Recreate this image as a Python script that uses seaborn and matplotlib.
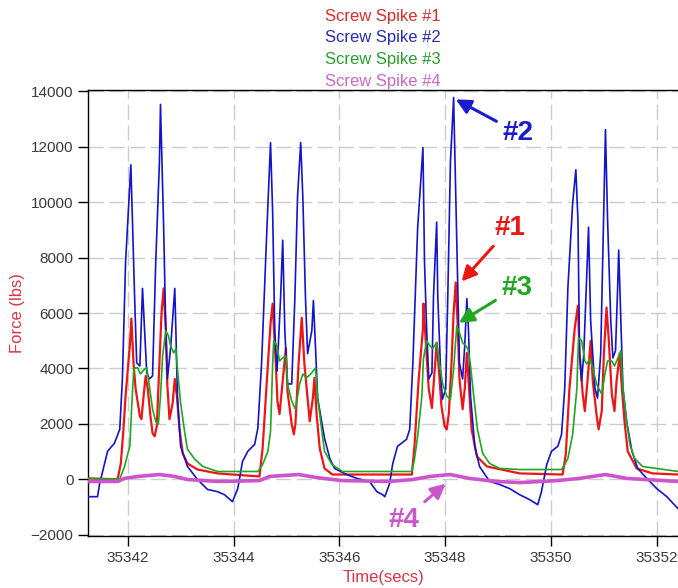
import numpy as np
import pandas as pd
import matplotlib
matplotlib.use("Agg")
import matplotlib.pyplot as plt
import seaborn as sns

# Screw spike forces (time in secs, force in lbs)
spike1_t = [35341.24, 35341.81, 35341.87, 35341.92, 35341.96, 35342.04, 35342.07, 35342.11, 35342.15, 35342.23,
            35342.26, 35342.30, 35342.34, 35342.38, 35342.43, 35342.47, 35342.51, 35342.55, 35342.60, 35342.64,
            35342.68, 35342.72, 35342.75, 35342.79, 35342.85, 35342.89, 35342.93, 35342.98, 35343.04, 35343.13,
            35343.32, 35343.70,
            35344.49, 35344.55, 35344.63, 35344.70, 35344.74, 35344.80, 35344.83, 35344.87, 35344.93, 35344.99,
            35345.02, 35345.10, 35345.14, 35345.17, 35345.23, 35345.29, 35345.34, 35345.40, 35345.44, 35345.50,
            35345.53, 35345.57, 35345.63, 35345.72, 35345.87, 35347.37,
            35347.42, 35347.50, 35347.58, 35347.59, 35347.65, 35347.69, 35347.75, 35347.78, 35347.84, 35347.88,
            35347.93, 35347.99, 35348.03, 35348.07, 35348.12, 35348.16, 35348.20, 35348.24, 35348.27, 35348.33,
            35348.37, 35348.41, 35348.44, 35348.50, 35348.60, 35348.79, 35349.41, 35350.22,
            35350.28, 35350.35, 35350.45, 35350.51, 35350.54, 35350.60, 35350.64, 35350.69, 35350.75, 35350.79,
            35350.86, 35350.90, 35350.96, 35351.00, 35351.05, 35351.09, 35351.15, 35351.20, 35351.24, 35351.30,
            35351.34, 35351.39, 35351.45, 35351.62, 35351.92, 35352.40]
spike1_f = [30, 0, 570, 1800, 3000, 4820, 5800, 4200, 3260, 2280,
            2170, 3000, 3730, 3260, 2280, 1660, 1550, 1910, 4200, 6010,
            6890, 5430, 3370, 2170, 2750, 3620, 3000, 1800, 930, 570,
            350, 210,
            100, 1110, 3550, 5620, 6340, 4160, 2820, 2350, 3550, 4740,
            3180, 1990, 1620, 1990, 4160, 5830, 4160, 2930, 2090, 2930,
            3660, 2350, 1110, 390, 170, 170,
            1190, 3620, 5430, 6340, 4450, 3260, 2570, 3370, 4930, 3980,
            2640, 1910, 1800, 2380, 4200, 6010, 7100, 5430, 3620, 2530,
            3260, 4560, 3620, 1800, 820, 460, 210, 170,
            900, 3290, 5470, 6270, 4530, 3070, 2460, 3550, 5000, 3550,
            2350, 1800, 2460, 4530, 6200, 5110, 3070, 2460, 3550, 4530,
            3290, 2090, 1010, 390, 210, 170]

spike2_t = [35341.24, 35341.43, 35341.47, 35341.62, 35341.75, 35341.85, 35341.90, 35341.96, 35342.06, 35342.13,
            35342.17, 35342.23, 35342.28, 35342.36, 35342.41, 35342.47, 35342.53, 35342.60, 35342.62, 35342.68,
            35342.72, 35342.75, 35342.81, 35342.89, 35342.91, 35342.94, 35343.00, 35343.13, 35343.32, 35343.51,
            35343.70, 35343.83, 35343.98,
            35344.08, 35344.17, 35344.27, 35344.40, 35344.46, 35344.53, 35344.63, 35344.70, 35344.74, 35344.78,
            35344.82, 35344.83, 35344.89, 35344.93, 35344.97, 35345.02, 35345.10, 35345.16, 35345.21, 35345.27,
            35345.31, 35345.36, 35345.40, 35345.48, 35345.51, 35345.55, 35345.59, 35345.72, 35345.82, 35345.91,
            35346.14, 35346.33, 35346.57, 35346.71, 35346.82, 35346.86,
            35346.95, 35347.01, 35347.10, 35347.27, 35347.33, 35347.39, 35347.48, 35347.58, 35347.61, 35347.65,
            35347.69, 35347.75, 35347.78, 35347.84, 35347.86, 35347.92, 35347.95, 35348.01, 35348.05, 35348.10,
            35348.16, 35348.20, 35348.24, 35348.27, 35348.33, 35348.37, 35348.41, 35348.44, 35348.48, 35348.56,
            35348.65, 35348.84, 35349.03, 35349.22, 35349.41, 35349.60, 35349.75,
            35349.82, 35349.92, 35350.01, 35350.13, 35350.20, 35350.26, 35350.32, 35350.41, 35350.47, 35350.51,
            35350.54, 35350.58, 35350.62, 35350.68, 35350.71, 35350.75, 35350.83, 35350.88, 35350.94, 35350.98,
            35351.03, 35351.07, 35351.13, 35351.17, 35351.22, 35351.26, 35351.28, 35351.32, 35351.36, 35351.43,
            35351.53, 35351.64, 35351.81, 35352.00, 35352.19, 35352.40]
spike2_f = [-630, -630, -160, 1010, 1300, 1800, 3620, 7830, 11350, 6630,
            4200, 4090, 6890, 3840, 3620, 3730, 7830, 11460, 13530, 9060,
            5430, 3620, 4710, 6890, 5430, 3000, 1190, 460, -10, -370,
            -450, -560, -810,
            -340, 640, 1010, 1260, 1840, 4160, 8990, 12150, 9610, 5360,
            3910, 4160, 6560, 8630, 5360, 3440, 3440, 6560, 10190, 12150,
            10190, 6560, 4530, 5360, 6450, 4740, 2930, 1480, 750, 390,
            170, 30, -80, -450, -560, -630,
            -160, 570, 1190, 1440, 1800, 4200, 9060, 11970, 7830, 5430,
            3620, 3840, 6630, 9280, 6630, 3620, 2890, 3260, 6630, 11460,
            13780, 10260, 6630, 4200, 3620, 4820, 6520, 5430, 3000, 1190,
            460, -80, -190, -340, -560, -740, -920,
            -450, 530, 1010, 1190, 1620, 3290, 6920, 9970, 11170, 9350,
            4530, 3550, 4530, 7540, 9100, 5720, 3290, 2930, 4530, 8160,
            12620, 9350, 5720, 4380, 4640, 6920, 8270, 5720, 3290, 2090,
            1010, 390, 30, -340, -630, -1060]

spike3_t = [35341.24, 35341.81, 35341.85, 35341.94, 35342.04, 35342.07, 35342.11, 35342.13, 35342.19, 35342.24,
            35342.32, 35342.36, 35342.41, 35342.47, 35342.53, 35342.58, 35342.62, 35342.66, 35342.72, 35342.77,
            35342.81, 35342.87, 35342.91, 35342.94, 35343.00, 35343.08, 35343.13, 35343.27, 35343.42, 35343.70,
            35344.46,
            35344.55, 35344.65, 35344.70, 35344.74, 35344.76, 35344.82, 35344.87, 35344.93, 35344.99, 35345.02,
            35345.10, 35345.17, 35345.25, 35345.31, 35345.38, 35345.46, 35345.55, 35345.59, 35345.67, 35345.72,
            35345.86, 35346.06, 35347.37,
            35347.42, 35347.48, 35347.56, 35347.59, 35347.65, 35347.71, 35347.76, 35347.84, 35347.88, 35347.95,
            35348.03, 35348.10, 35348.16, 35348.22, 35348.27, 35348.33, 35348.39, 35348.43, 35348.48, 35348.54,
            35348.61, 35348.71, 35348.84, 35349.03, 35349.41, 35350.20,
            35350.26, 35350.32, 35350.41, 35350.49, 35350.52, 35350.58, 35350.64, 35350.68, 35350.73, 35350.79,
            35350.86, 35350.96, 35351.02, 35351.07, 35351.15, 35351.20, 35351.26, 35351.32, 35351.36, 35351.43,
            35351.49, 35351.58, 35351.73, 35352.40]
spike3_f = [30, 0, 0, 460, 1190, 2380, 3840, 4020, 4020, 3800,
            3980, 4020, 3370, 2530, 2090, 1990, 3000, 4450, 5360, 5180,
            4820, 4560, 4710, 3980, 2750, 1660, 1080, 720, 460, 280,
            280,
            530, 1010, 1730, 4160, 5000, 4820, 4270, 4380, 4450, 3440,
            2820, 2530, 3440, 3800, 3660, 3800, 4020, 2930, 1730, 1010,
            530, 280, 280,
            720, 1550, 3000, 4350, 5000, 4820, 4710, 4930, 4350, 3470,
            3000, 2890, 3980, 5540, 5290, 4930, 4820, 4710, 4090, 3000,
            1800, 930, 570, 390, 350, 350,
            530, 750, 1620, 3290, 5110, 5000, 4270, 4160, 4350, 4020,
            3440, 3070, 3800, 4270, 4270, 4090, 4350, 4640, 3290, 2090,
            1260, 750, 460, 280]

spike4_t = [35341.24, 35341.81, 35341.94, 35342.19, 35342.60, 35342.89, 35343.13, 35343.70, 35344.49, 35344.68,
            35345.23, 35345.57, 35346.06, 35346.95, 35347.39, 35347.71, 35348.09, 35348.46, 35348.97, 35349.41,
            35350.11, 35350.54, 35351.03, 35351.43, 35352.40]
spike4_f = [-80, -80, 30, 100, 170, 100, -10, -80, -50, 100,
            170, 60, -50, -80, -10, 100, 170, 30, -80, -120,
            -50, 30, 170, 30, -80]

labels = ["Screw Spike #1", "Screw Spike #2", "Screw Spike #3", "Screw Spike #4"]
line_colors = ["#ee1515", "#1414cc", "#1fa81f", "#cc55cc"]
text_colors = ["#e02a2a", "#2a2abb", "#2aa02a", "#cc66cc"]

sns.set_style("white")
plt.rcParams["font.family"] = ["Liberation Sans", "DejaVu Sans"]

fig = plt.figure(figsize=(6.78, 5.88), dpi=100)
ax = fig.add_axes([0.1298, 0.0884, 0.8717, 0.7585])

series = [(spike1_t, spike1_f, 1.6), (spike2_t, spike2_f, 1.2),
          (spike3_t, spike3_f, 1.2), (spike4_t, spike4_f, 2.6)]
# draw #4 first, then the others on top like the original
for i in [3, 0, 2, 1]:
    t, f, lw = series[i]
    df = pd.DataFrame({"time": t, "force": f})
    sns.lineplot(data=df, x="time", y="force", ax=ax, color=line_colors[i],
                 linewidth=lw, estimator=None, sort=False, zorder=3 + i)

ax.set_xlim(35341.25, 35352.42)
ax.set_ylim(-2050, 14050)
ax.set_xticks(np.arange(35342, 35353, 2))
ax.set_yticks(np.arange(-2000, 14001, 2000))
ax.xaxis.set_major_formatter(matplotlib.ticker.FormatStrFormatter("%d"))
ax.grid(True, color="#cccccc", linestyle=(0, (11, 4)), linewidth=1.0)
ax.tick_params(direction="out", length=7, width=1, color="black",
               labelsize=11, labelcolor="#3a3a3a", left=True, bottom=True)
for s in ax.spines.values():
    s.set_color("black")
    s.set_linewidth(1.0)

ax.set_xlabel("Time(secs)", color="#dd3344", fontsize=12, labelpad=4)
ax.set_ylabel("Force (lbs)", color="#dd3344", fontsize=12, labelpad=4)

# stacked legend text above the plot
for i, lab in enumerate(labels):
    fig.text(0.565, 1 - (16 + 21.7 * i) / 588, lab, color=text_colors[i],
             fontsize=12, ha="center", va="center")

# callouts
arrow = dict(arrowstyle="-|>", lw=2.2, mutation_scale=22, shrinkA=2, shrinkB=0)
ax.annotate("#2", xy=(35348.20, 13710), xytext=(35349.37, 12510), color="#1a1ad0",
            fontsize=20, fontweight="bold", ha="center", va="center",
            arrowprops=dict(arrow, color="#1a1ad0"), zorder=10)
ax.annotate("#1", xy=(35348.31, 7140), xytext=(35349.22, 9070), color="#ee1515",
            fontsize=20, fontweight="bold", ha="center", va="center",
            arrowprops=dict(arrow, color="#ee1515"), zorder=10)
ax.annotate("#3", xy=(35348.26, 5650), xytext=(35349.35, 6920), color="#1fa81f",
            fontsize=20, fontweight="bold", ha="center", va="center",
            arrowprops=dict(arrow, color="#1fa81f"), zorder=10)
ax.annotate("#4", xy=(35348.01, -160), xytext=(35347.22, -1460), color="#cc55cc",
            fontsize=20, fontweight="bold", ha="center", va="center",
            arrowprops=dict(arrow, color="#cc55cc"), zorder=10)

fig.savefig("out.png", dpi=100)
